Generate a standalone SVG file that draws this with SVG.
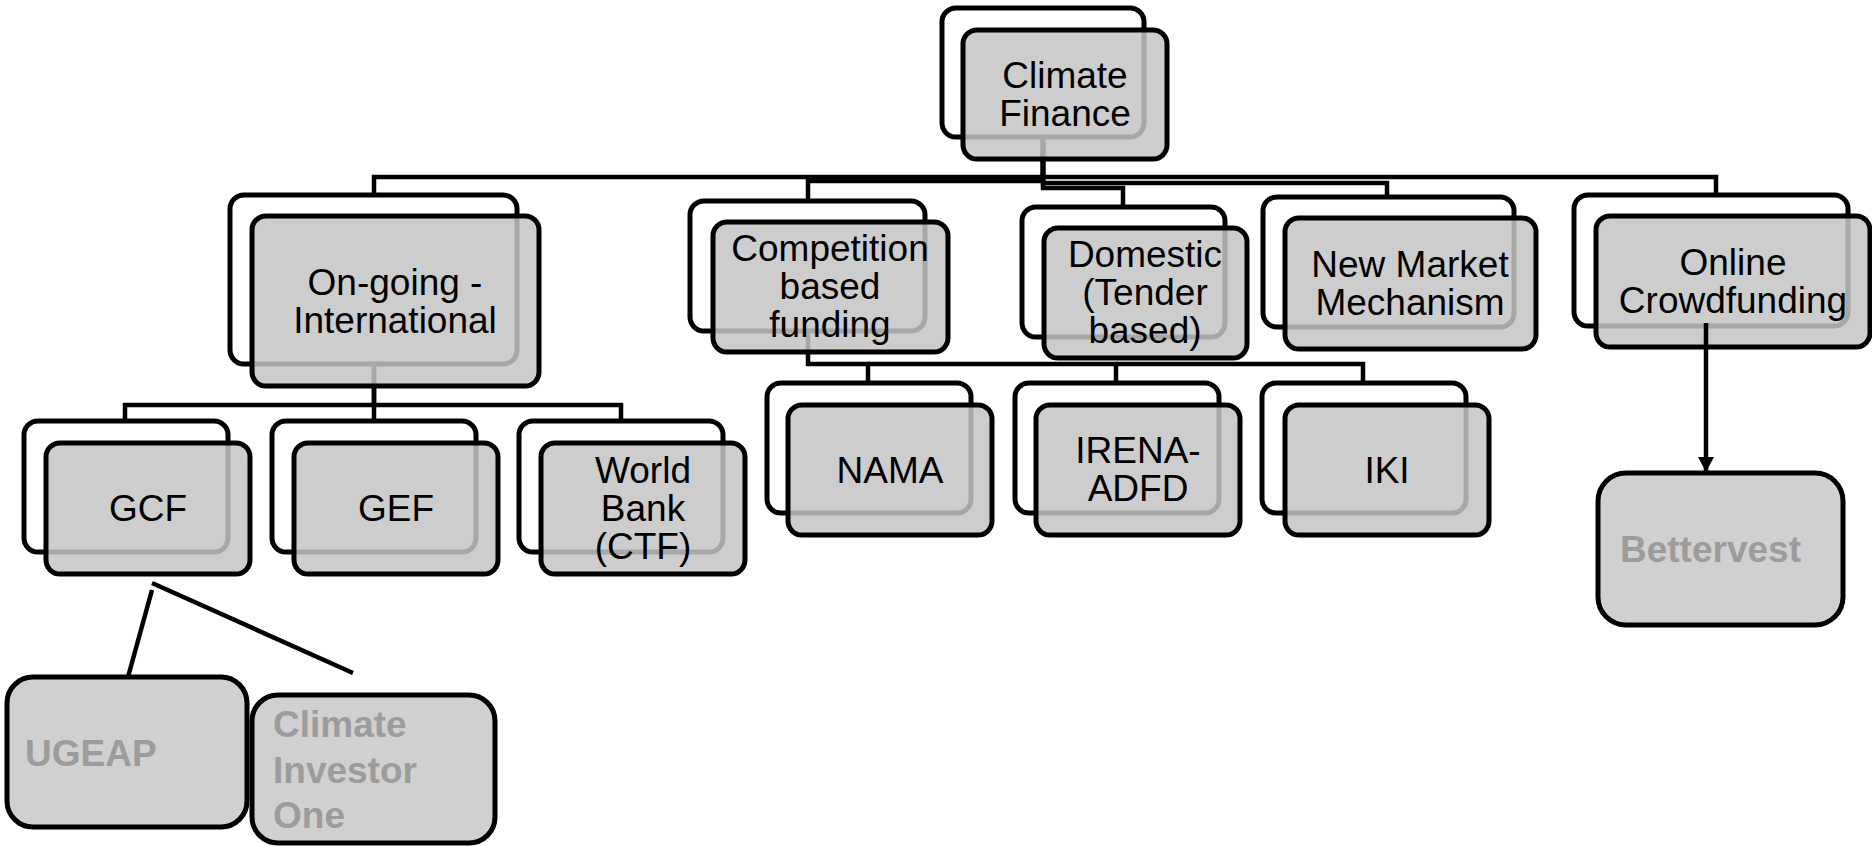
<svg xmlns="http://www.w3.org/2000/svg" width="1872" height="846" viewBox="0 0 1872 846">
<defs>
<style>
.back{fill:#fff;stroke:#000;stroke-width:5}
.front{fill:#c4c4c4;fill-opacity:0.85;stroke:#000;stroke-width:5}
.solo{fill:#d0d0d0;stroke:#000;stroke-width:5}
.conn{fill:none;stroke:#000;stroke-width:4.5}
.t{font-family:"Liberation Sans",Arial,sans-serif;font-size:37px;text-anchor:middle;fill:#000}
.g{font-family:"Liberation Sans",Arial,sans-serif;font-size:37px;font-weight:bold;fill:#9c9c9c}
</style>
<marker id="ah" markerUnits="userSpaceOnUse" markerWidth="18" markerHeight="18" refX="15" refY="8" orient="auto">
<path d="M0,0 L15,8 L0,16 Z" fill="#000"/>
</marker>
</defs>
<rect width="1872" height="846" fill="#fff"/>
<g id="connectors">
<path class="conn" d="M1043 100 V177 H374 V200"/>
<path class="conn" d="M1043 100 V181 H808 V206"/>
<path class="conn" d="M1043 100 V188 H1123 V212"/>
<path class="conn" d="M1043 100 V183 H1387 V202"/>
<path class="conn" d="M1043 100 V177 H1716 V200"/>
<path class="conn" d="M374 300 V405 H125 V426"/>
<path class="conn" d="M374 300 V426"/>
<path class="conn" d="M374 405 H621 V426"/>
<path class="conn" d="M808 300 V364 H868 V388"/>
<path class="conn" d="M868 364 H1116 V388"/>
<path class="conn" d="M1116 364 H1363 V388"/>
</g>
<g id="n-climate-finance">
<rect class="back" x="942" y="8" width="202" height="129" rx="14"/>
<rect class="front" x="963" y="30" width="204" height="129" rx="14"/>
<text class="t" x="1065" y="88">Climate</text>
<text class="t" x="1065" y="126">Finance</text>
</g>
<g id="n-ongoing">
<rect class="back" x="230" y="195" width="287" height="169" rx="14"/>
<rect class="front" x="252" y="216" width="287" height="170" rx="14"/>
<text class="t" x="395" y="295">On-going -</text>
<text class="t" x="395" y="333">International</text>
</g>
<g id="n-competition">
<rect class="back" x="690" y="201" width="235" height="130" rx="14"/>
<rect class="front" x="713" y="222" width="235" height="130" rx="14"/>
<text class="t" x="830" y="261">Competition</text>
<text class="t" x="830" y="299">based</text>
<text class="t" x="830" y="337">funding</text>
</g>
<g id="n-domestic">
<rect class="back" x="1022" y="207" width="203" height="130" rx="14"/>
<rect class="front" x="1044" y="228" width="203" height="130" rx="14"/>
<text class="t" x="1145" y="267">Domestic</text>
<text class="t" x="1145" y="305">(Tender</text>
<text class="t" x="1145" y="343">based)</text>
</g>
<g id="n-new-market">
<rect class="back" x="1263" y="197" width="251" height="130" rx="14"/>
<rect class="front" x="1285" y="218" width="251" height="131" rx="14"/>
<text class="t" x="1410" y="277">New Market</text>
<text class="t" x="1410" y="315">Mechanism</text>
</g>
<g id="n-online">
<rect class="back" x="1574" y="195" width="274" height="131" rx="14"/>
<rect class="front" x="1596" y="216" width="274" height="131" rx="14"/>
<text class="t" x="1733" y="275">Online</text>
<text class="t" x="1733" y="313">Crowdfunding</text>
</g>
<g id="n-gcf">
<rect class="back" x="24" y="421" width="204" height="131" rx="14"/>
<rect class="front" x="46" y="443" width="204" height="131" rx="14"/>
<text class="t" x="148" y="521">GCF</text>
</g>
<g id="n-gef">
<rect class="back" x="272" y="421" width="204" height="131" rx="14"/>
<rect class="front" x="294" y="443" width="204" height="131" rx="14"/>
<text class="t" x="396" y="521">GEF</text>
</g>
<g id="n-worldbank">
<rect class="back" x="519" y="421" width="204" height="131" rx="14"/>
<rect class="front" x="541" y="443" width="204" height="131" rx="14"/>
<text class="t" x="643" y="483">World</text>
<text class="t" x="643" y="521">Bank</text>
<text class="t" x="643" y="559">(CTF)</text>
</g>
<g id="n-nama">
<rect class="back" x="767" y="383" width="204" height="130" rx="14"/>
<rect class="front" x="788" y="405" width="204" height="130" rx="14"/>
<text class="t" x="890" y="483">NAMA</text>
</g>
<g id="n-irena">
<rect class="back" x="1015" y="383" width="204" height="130" rx="14"/>
<rect class="front" x="1036" y="405" width="204" height="130" rx="14"/>
<text class="t" x="1138" y="463">IRENA-</text>
<text class="t" x="1138" y="501">ADFD</text>
</g>
<g id="n-iki">
<rect class="back" x="1262" y="383" width="204" height="130" rx="14"/>
<rect class="front" x="1285" y="405" width="204" height="130" rx="14"/>
<text class="t" x="1387" y="483">IKI</text>
</g>
<g id="n-bettervest">
<rect class="solo" x="1598" y="473" width="245" height="152" rx="28"/>
<text class="g" x="1620" y="562">Bettervest</text>
</g>
<g id="n-ugeap">
<rect class="solo" x="7" y="677" width="240" height="150" rx="26"/>
<text class="g" x="25" y="766">UGEAP</text>
</g>
<g id="n-cio">
<rect class="solo" x="252" y="695" width="243" height="148" rx="26"/>
<text class="g" x="273" y="737">Climate</text>
<text class="g" x="273" y="783">Investor</text>
<text class="g" x="273" y="828">One</text>
</g>
<g id="connectors-top">
<path class="conn" d="M1706 323 V472" marker-end="url(#ah)"/>
<path class="conn" d="M152 583 L353 673"/>
<path class="conn" d="M152 590 L128 677"/>
</g>
</svg>
